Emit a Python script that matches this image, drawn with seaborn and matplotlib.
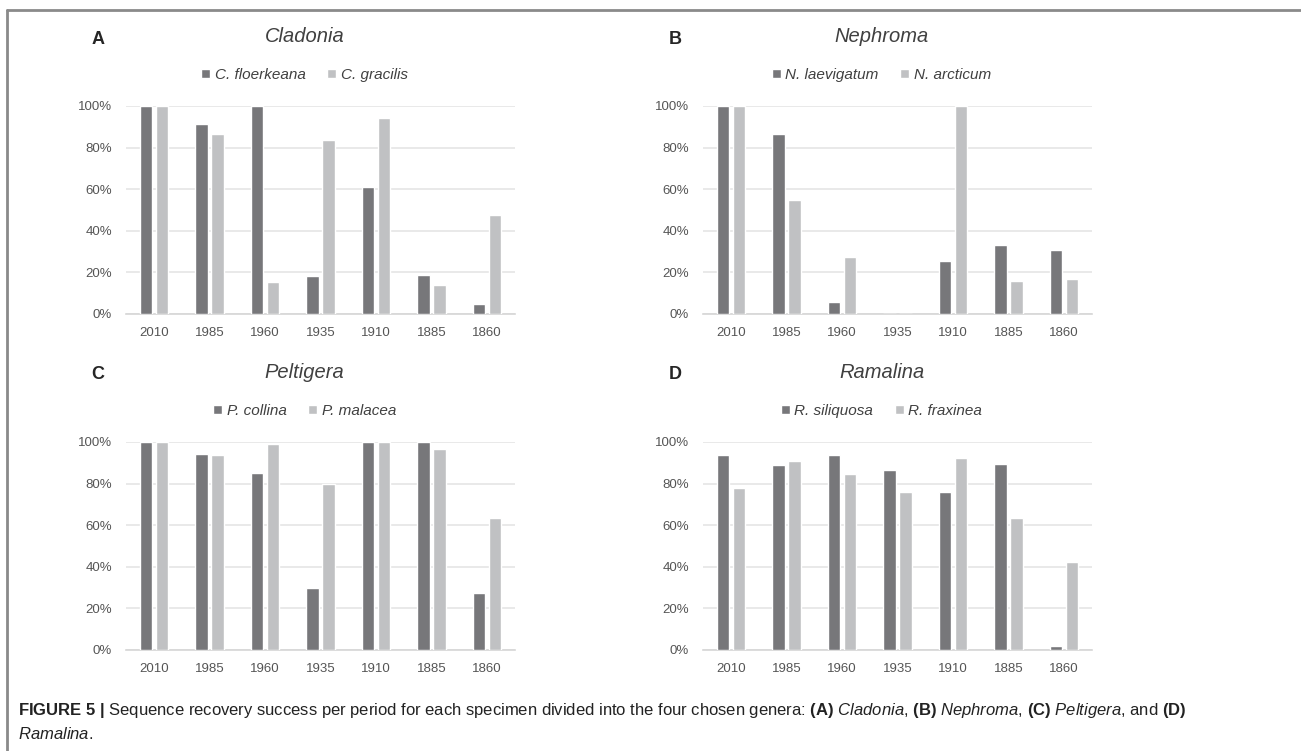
import matplotlib
matplotlib.use('Agg')
import matplotlib.pyplot as plt
from matplotlib.lines import Line2D
from matplotlib.ticker import PercentFormatter
import pandas as pd
import seaborn as sns

periods = ['2010', '1985', '1960', '1935', '1910', '1885', '1860']

# recovery success (%) per period
cladonia_floerkeana = [100, 91.3, 100, 18.3, 61.1, 18.9, 5.0]
cladonia_gracilis = [100, 86.4, 15.2, 83.8, 94.1, 13.8, 47.4]
nephroma_laevigatum = [100, 86.5, 5.8, 0, 25.3, 33.0, 30.9]
nephroma_arcticum = [100, 55.0, 27.6, 0, 100, 15.7, 17.0]
peltigera_collina = [100, 94.1, 84.9, 29.8, 100, 100, 27.4]
peltigera_malacea = [100, 93.8, 98.9, 79.6, 100, 96.8, 63.5]
ramalina_siliquosa = [93.8, 89.1, 93.6, 86.5, 76.0, 89.3, 1.9]
ramalina_fraxinea = [77.9, 90.9, 84.8, 76.1, 92.3, 63.3, 42.1]

panels = [
    ('A', 'Cladonia', ('C. floerkeana', cladonia_floerkeana), ('C. gracilis', cladonia_gracilis)),
    ('B', 'Nephroma', ('N. laevigatum', nephroma_laevigatum), ('N. arcticum', nephroma_arcticum)),
    ('C', 'Peltigera', ('P. collina', peltigera_collina), ('P. malacea', peltigera_malacea)),
    ('D', 'Ramalina', ('R. siliquosa', ramalina_siliquosa), ('R. fraxinea', ramalina_fraxinea)),
]

sns.set_style('white')
plt.rcParams['font.family'] = ['Liberation Sans', 'DejaVu Sans']
plt.rcParams['mathtext.fontset'] = 'custom'
plt.rcParams['mathtext.rm'] = 'Liberation Sans'
plt.rcParams['mathtext.it'] = 'Liberation Sans:italic'
plt.rcParams['mathtext.bf'] = 'Liberation Sans:bold'

W, H = 1301, 751
fig = plt.figure(figsize=(W / 100, H / 100), dpi=100)

dark, light = '#76777b', '#c0c1c3'
# pixel boxes of the four plot areas: left, right, top(100%), bottom(0%)
boxes = [(126, 515, 106, 314), (703, 1092, 106, 314),
         (126, 515, 442, 650), (703, 1092, 442, 650)]

for (letter, genus, s1, s2), (x0, x1, y0, y1) in zip(panels, boxes):
    ax = fig.add_axes([x0 / W, 1 - y1 / H, (x1 - x0) / W, (y1 - y0) / H])
    df = pd.DataFrame({
        'period': periods * 2,
        'value': [v / 100 for v in s1[1]] + [v / 100 for v in s2[1]],
        'species': [s1[0]] * 7 + [s2[0]] * 7,
    })
    sns.barplot(data=df, x='period', y='value', hue='species', order=periods,
                hue_order=[s1[0], s2[0]], palette=[dark, light],
                width=0.575, gap=0.22, ax=ax, zorder=3)
    ax.set_ylim(0, 1.0)
    ax.set_xlim(-0.5, 6.5)
    ax.set_yticks([0, 0.2, 0.4, 0.6, 0.8, 1.0])
    ax.yaxis.set_major_formatter(PercentFormatter(1.0, decimals=0))
    ax.grid(axis='y', color='#e3e3e3', lw=1.1, zorder=0)
    ax.set_axisbelow(True)
    for side in ['top', 'left', 'right']:
        ax.spines[side].set_visible(False)
    ax.spines['bottom'].set_color('#d6d6d6')
    ax.spines['bottom'].set_linewidth(1.2)
    ax.tick_params(length=0, labelsize=9.5, labelcolor='#555555', pad=9)
    ax.tick_params(axis='y', pad=10)
    ax.set_xlabel('')
    ax.set_ylabel('')

    # titles and legends are centred on the whole panel, labels included
    cx = (x0 + x1 - 32) / 2 / W
    fig.text(cx, 1 - (y0 - 69) / H, genus, ha='center', va='center',
             fontsize=14.5, style='italic', color='#404040')
    fig.text((x0 - 28) / W, 1 - (y0 - 67) / H, letter, ha='center', va='center',
             fontsize=13, fontweight='bold', color='#262626')
    ax.legend(loc='center', bbox_to_anchor=(cx, 1 - (y0 - 31) / H),
              bbox_transform=fig.transFigure, ncol=2, frameon=False,
              prop={'style': 'italic', 'size': 11}, labelcolor='#404040',
              handlelength=0.6, handleheight=0.6, handletextpad=0.3,
              columnspacing=1.4)

# frame lines of the figure box
fig.add_artist(Line2D([7 / W, 1], [1 - 10 / H] * 2, color='#8a8a8a', lw=2))
fig.add_artist(Line2D([7 / W] * 2, [0, 1 - 10 / H], color='#8a8a8a', lw=2))

cap1 = (r'$\mathbf{FIGURE\ 5\ |}$ Sequence recovery success per period for each specimen '
        r'divided into the four chosen genera: $\mathbf{(A)}$ $\mathit{Cladonia}$, '
        r'$\mathbf{(B)}$ $\mathit{Nephroma}$, $\mathbf{(C)}$ $\mathit{Peltigera}$, and $\mathbf{(D)}$')
cap2 = r'$\mathit{Ramalina}$.'
fig.text(18 / W, 1 - 711 / H, cap1, ha='left', va='center', fontsize=12, color='#222222')
fig.text(18 / W, 1 - 734 / H, cap2, ha='left', va='center', fontsize=12, color='#222222')

fig.savefig('out.png', dpi=100)
